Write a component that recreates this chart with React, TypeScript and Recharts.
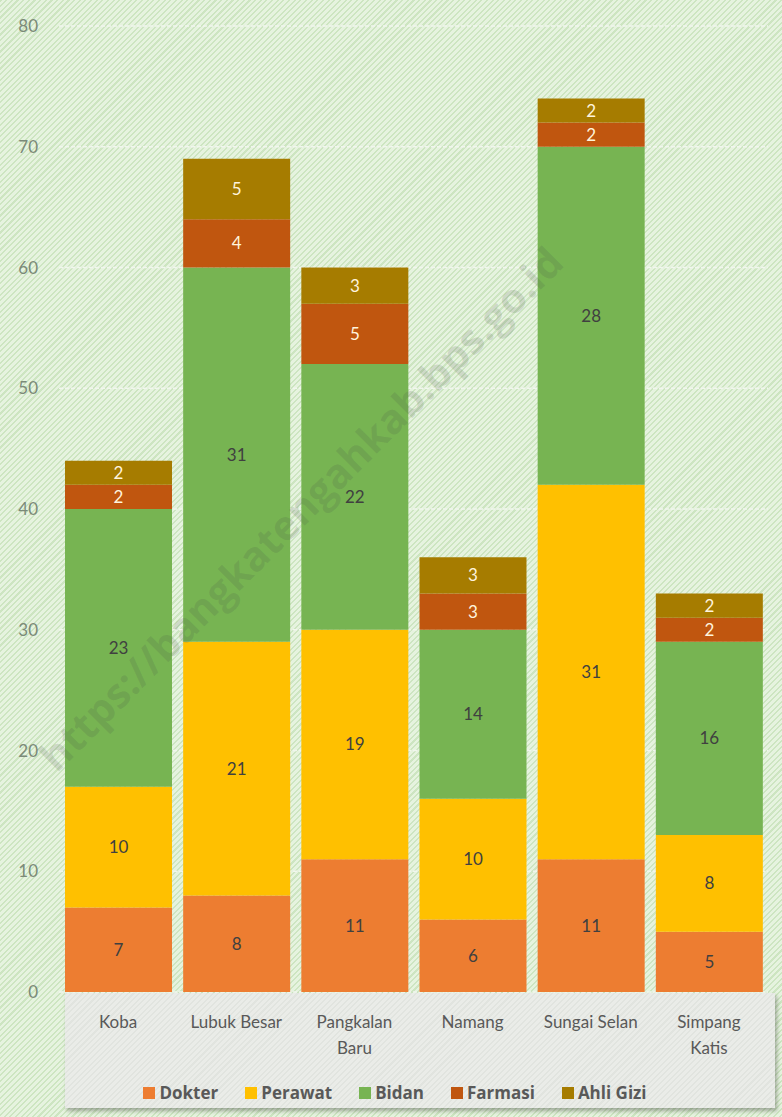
import * as React from "react";
import { BarChart, Bar, XAxis, YAxis, CartesianGrid, Legend, LabelList } from "recharts";

const categories = ["Koba", "Lubuk Besar", "Pangkalan Baru", "Namang", "Sungai Selan", "Simpang Katis"];
const tickLabels = [["Koba"], ["Lubuk Besar"], ["Pangkalan", "Baru"], ["Namang"], ["Sungai Selan"], ["Simpang", "Katis"]];
const dokter = [7, 8, 11, 6, 11, 5];
const perawat = [10, 21, 19, 10, 31, 8];
const bidan = [23, 31, 22, 14, 28, 16];
const farmasi = [2, 4, 5, 3, 2, 2];
const ahliGizi = [2, 5, 3, 3, 2, 2];
const yTicks = [0, 10, 20, 30, 40, 50, 60, 70, 80];

const data = categories.map((name, i) => ({
    name,
    Dokter: dokter[i],
    Perawat: perawat[i],
    Bidan: bidan[i],
    Farmasi: farmasi[i],
    "Ahli Gizi": ahliGizi[i],
}));

const series = [
    { key: "Dokter", color: "#ed7d31", label: "#404040" },
    { key: "Perawat", color: "#ffc000", label: "#404040" },
    { key: "Bidan", color: "#77b452", label: "#404040" },
    { key: "Farmasi", color: "#c0560f", label: "#fff4dc" },
    { key: "Ahli Gizi", color: "#a67c00", label: "#fff4dc" },
];

const font = "Lato, 'Open Sans', sans-serif";

function XTick({ x, y, payload }: any) {
    const lines = tickLabels[payload.index] || [String(payload.value)];
    return (
        <text x={x} y={y} textAnchor="middle" fill="#595959" fontSize={17} fontFamily={font}>
            {lines.map((l, i) => (
                <tspan key={i} x={x} dy={i === 0 ? 6 : 26}>
                    {l}
                </tspan>
            ))}
        </text>
    );
}

function LegendContent() {
    return (
        <div
            style={{
                display: "flex",
                justifyContent: "center",
                gap: 27,
                paddingLeft: 22,
                fontFamily: "'Open Sans', sans-serif",
                fontSize: 17,
                fontWeight: 700,
                color: "#595959",
                lineHeight: "24px",
            }}
        >
            {series.map((s) => (
                <span key={s.key} style={{ display: "flex", alignItems: "center" }}>
                    <span style={{ width: 12, height: 12, background: s.color, marginRight: 4, display: "inline-block" }} />
                    {s.key}
                </span>
            ))}
        </div>
    );
}

export default function App() {
    return (
        <div style={{ position: "absolute", left: 0, top: 0, width: 782, height: 1117, overflow: "hidden" }}>
            {/* hatched green background */}
            <div
                style={{
                    position: "absolute",
                    inset: 0,
                    background: "repeating-linear-gradient(135deg, #cde5c1 0px, #cde5c1 1.5px, #e6f3df 1.5px, #e6f3df 4px)",
                }}
            />
            {/* gray panel behind category labels and legend */}
            <div
                style={{
                    position: "absolute",
                    left: 65,
                    top: 993,
                    width: 710,
                    height: 115,
                    background: "repeating-linear-gradient(135deg, #e1e4df 0px, #e1e4df 1.5px, #eaece8 1.5px, #eaece8 4px)",
                    boxShadow: "2px 3px 4px rgba(0,0,0,0.3)",
                }}
            />
            <div style={{ position: "absolute", left: 0, top: 0 }}>
                <BarChart
                    width={782}
                    height={1117}
                    data={data}
                    margin={{ top: 26, right: 14, left: 0, bottom: 12 }}
                    barSize={107}
                >
                    <CartesianGrid vertical={false} stroke="#f1f6ee" strokeWidth={1.5} strokeDasharray="4 2" />
                    <XAxis
                        dataKey="name"
                        axisLine={false}
                        tickLine={false}
                        tickSize={0}
                        tickMargin={30}
                        height={89}
                        interval={0}
                        tick={<XTick />}
                    />
                    <YAxis
                        domain={[0, 80]}
                        ticks={yTicks}
                        axisLine={false}
                        tickLine={false}
                        tickSize={0}
                        tickMargin={21}
                        width={59}
                        tick={{ fill: "#7b8a78", fontSize: 17, fontFamily: font }}
                    />
                    <Legend verticalAlign="bottom" height={24} content={<LegendContent />} />
                    {series.map((s) => (
                        <Bar key={s.key} dataKey={s.key} stackId="a" fill={s.color} isAnimationActive={false}>
                            <LabelList
                                dataKey={s.key}
                                position="center"
                                fill={s.label}
                                fontSize={17}
                                fontFamily={font}
                            />
                        </Bar>
                    ))}
                </BarChart>
            </div>
            {/* watermark */}
            <div
                style={{
                    position: "absolute",
                    left: 300,
                    top: 508,
                    transform: "translate(-50%, -50%) rotate(-45deg)",
                    whiteSpace: "nowrap",
                    fontFamily: "'Open Sans', sans-serif",
                    fontWeight: 700,
                    fontSize: 41,
                    color: "rgba(70,80,70,0.16)",
                    pointerEvents: "none",
                }}
            >
                https://bangkatengahkab.bps.go.id
            </div>
        </div>
    );
}
